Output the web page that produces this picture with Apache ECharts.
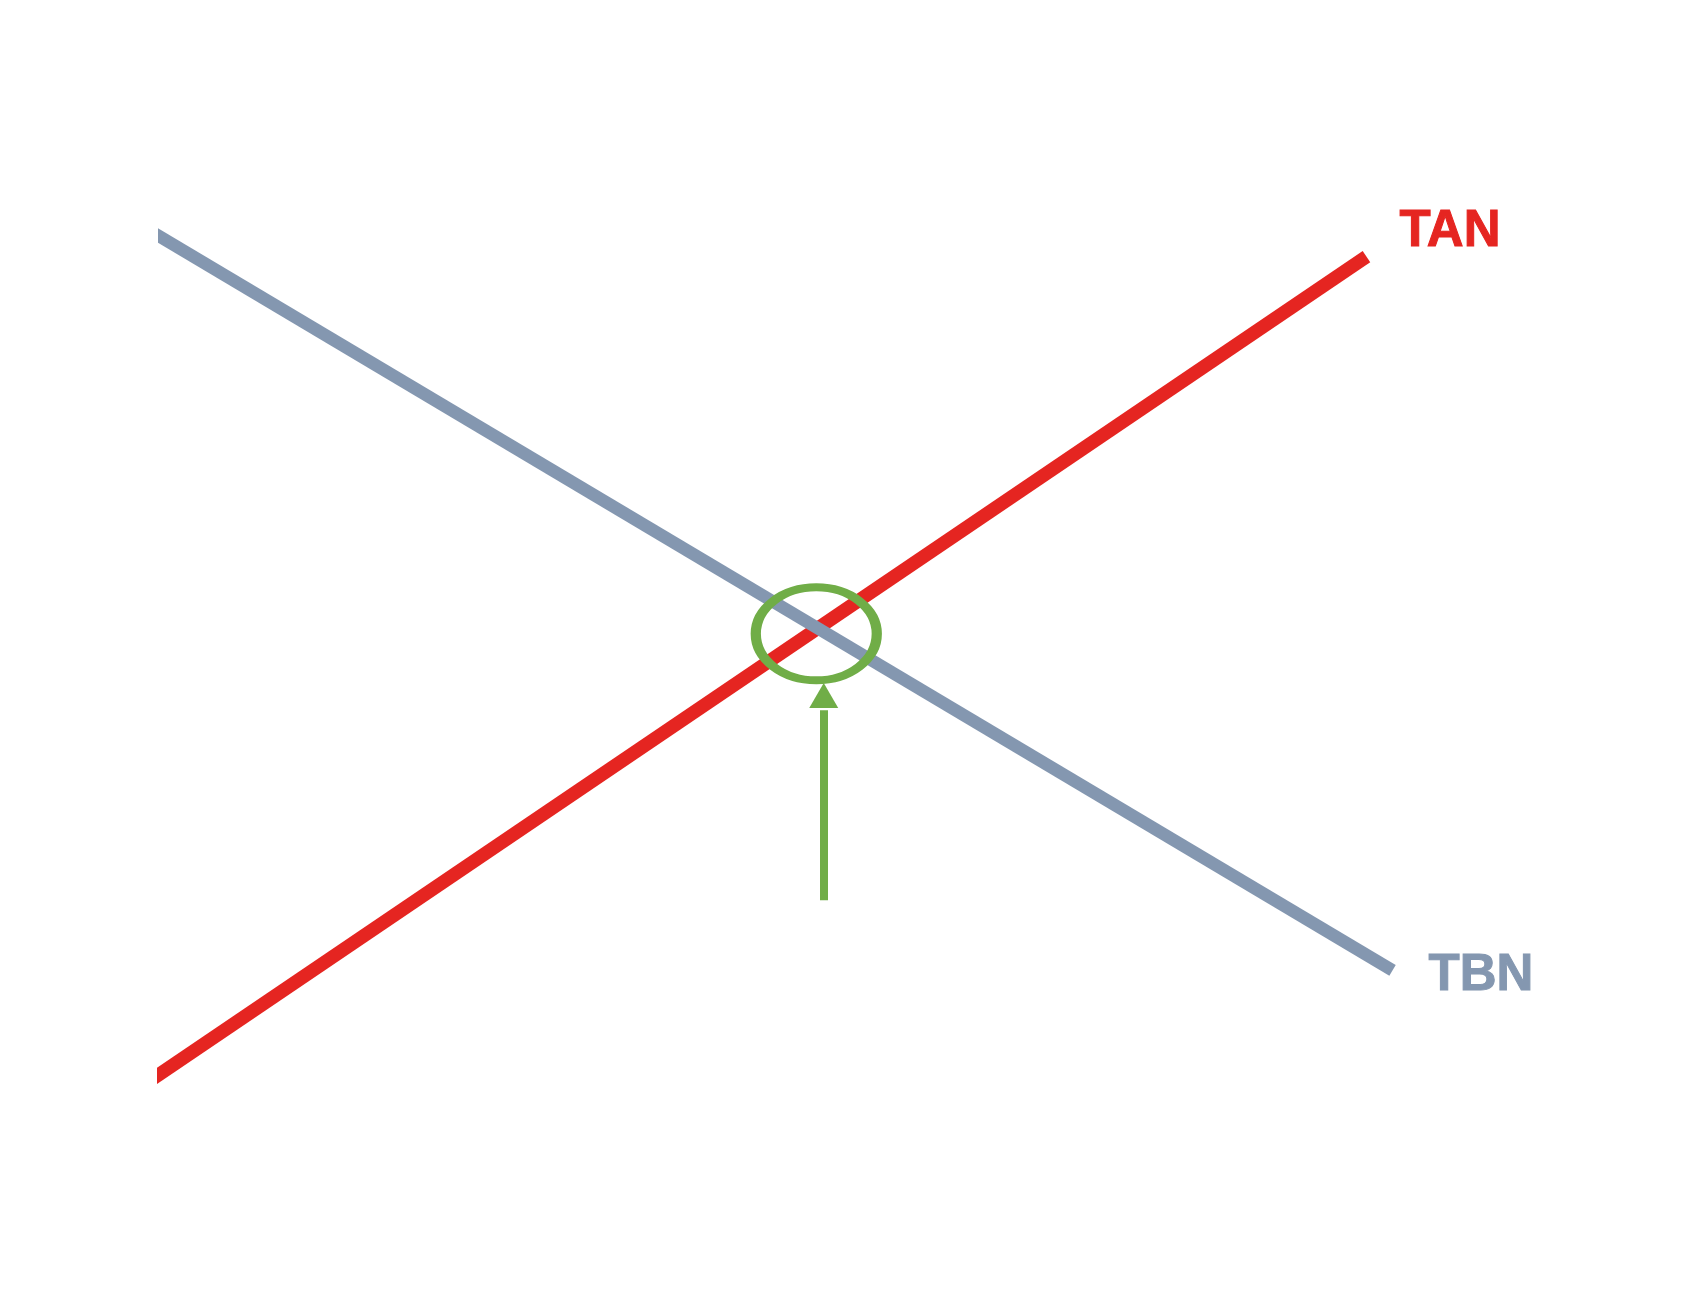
<!DOCTYPE html>
<html>
<head>
<meta charset="utf-8">
<script src="https://cdn.jsdelivr.net/npm/echarts@6/dist/echarts.min.js"></script>
<style>
html,body{margin:0;padding:0;background:#fff;}
#chart{width:1700px;height:1300px;}
</style>
</head>
<body>
<div id="chart"></div>
<script>
// Data (x, y) in a 0..100 abstract space
var seriesNames = ['TAN', 'TBN'];
var tanData = [[-2, 0.9], [97.3, 93.7]];
var tbnData = [[-2, 97.7], [99.4, 14.4]];
var crossPoint = [[53.0, 51.8]];
var arrowX = 53.6;
var arrowFromY = 22.2;
var arrowToY = 43.3;
var arrowHeadY = 44.95;

var RED = '#e52521';
var GRAY = '#8497b0';
var GREEN = '#70ad47';

var chart = echarts.init(document.getElementById('chart'));
var labelFont = 'Liberation Sans, Arial, Helvetica, sans-serif';

chart.setOption({
  backgroundColor: '#ffffff',
  animation: false,
  grid: { left: 164.5, top: 200, width: 1235.5, height: 900 },
  xAxis: { type: 'value', min: 0.52, max: 100, show: false },
  yAxis: { type: 'value', min: 0, max: 100, show: false },
  series: [
    {
      name: seriesNames[0],
      type: 'line',
      data: tanData,
      showSymbol: false,
      clip: true,
      z: 2,
      lineStyle: { color: RED, width: 13.5, cap: 'butt' },
      endLabel: {
        show: true,
        formatter: '{a}',
        color: RED,
        fontSize: 51,
        fontWeight: 'bold',
        fontFamily: labelFont,
        textBorderColor: RED,
        textBorderWidth: 1,
        offset: [25, -25]
      }
    },
    {
      name: seriesNames[1],
      type: 'line',
      data: tbnData,
      showSymbol: false,
      clip: true,
      z: 3,
      lineStyle: { color: GRAY, width: 12.5, cap: 'butt' },
      endLabel: {
        show: true,
        formatter: '{a}',
        color: GRAY,
        fontSize: 51,
        fontWeight: 'bold',
        fontFamily: labelFont,
        textBorderColor: GRAY,
        textBorderWidth: 1,
        offset: [28, 6]
      }
    },
    {
      name: 'cross',
      type: 'scatter',
      data: crossPoint,
      z: 5,
      silent: true,
      symbol: 'path://M0,50 A50,50 0 1,1 100,50 A50,50 0 1,1 0,50 Z',
      symbolSize: [121, 93],
      itemStyle: { color: 'rgba(0,0,0,0)', borderColor: GREEN, borderWidth: 9, opacity: 1 },
      markLine: {
        silent: true,
        symbol: ['none', 'none'],
        label: { show: false },
        lineStyle: { color: GREEN, width: 8, type: 'solid', opacity: 1 },
        data: [[
          { coord: [arrowX, arrowFromY] },
          { coord: [arrowX, arrowToY] }
        ]]
      },
      markPoint: {
        silent: true,
        symbol: 'triangle',
        symbolSize: [29, 25],
        label: { show: false },
        itemStyle: { color: GREEN, opacity: 1 },
        data: [{ coord: [arrowX, arrowHeadY] }]
      }
    }
  ]
});
</script>
</body>
</html>
